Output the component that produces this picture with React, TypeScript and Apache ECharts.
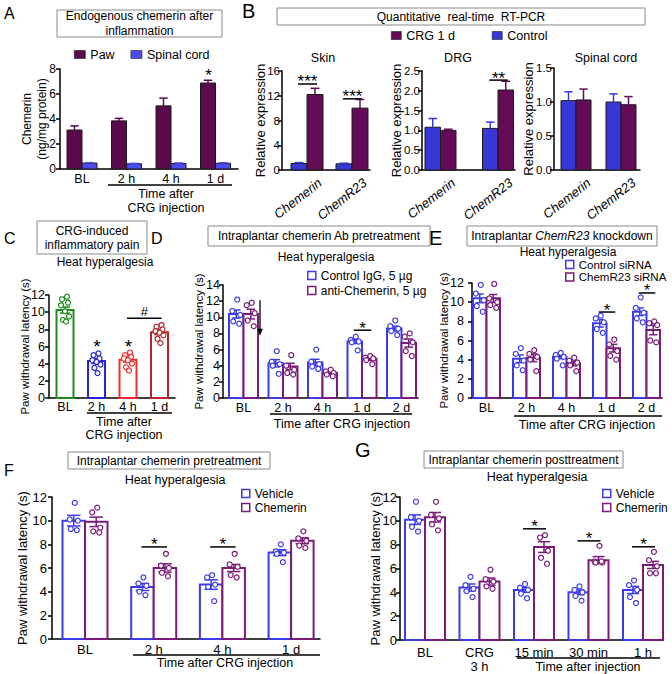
import React, { useEffect, useRef } from "react";
import * as echarts from "echarts";

const FONT = "'Liberation Sans', Arial, Helvetica, sans-serif";

/* ======================= DATA ======================= */
// A – endogenous chemerin (ng/mg protein)
const A_CATEGORIES = ["BL", "2 h", "4 h", "1 d"];
const A_PAW = [3.12, 3.85, 5.05, 6.88];
const A_PAW_SEM = [0.33, 0.2, 0.62, 0.22];
const A_SPINAL = [0.47, 0.42, 0.44, 0.46];
const A_SPINAL_SEM = [0.04, 0.03, 0.04, 0.04];

// B – relative expression
const B_GENES = ["Chemerin", "ChemR23"];
const B_SKIN_CONTROL = [1.05, 1.0];
const B_SKIN_CONTROL_SEM = [0.15, 0.1];
const B_SKIN_CRG = [12.2, 10.0];
const B_SKIN_CRG_SEM = [1.0, 1.4];
const B_DRG_CONTROL = [1.08, 1.05];
const B_DRG_CONTROL_SEM = [0.22, 0.16];
const B_DRG_CRG = [1.0, 2.02];
const B_DRG_CRG_SEM = [0.03, 0.22];
const B_SC_CONTROL = [1.02, 1.0];
const B_SC_CONTROL_SEM = [0.13, 0.12];
const B_SC_CRG = [1.03, 0.96];
const B_SC_CRG_SEM = [0.16, 0.12];

// C – CRG-induced heat hyperalgesia
const C_CATEGORIES = ["BL", "2 h", "4 h", "1 d"];
const C_MEAN = [10.25, 4.3, 4.45, 7.65];
const C_SEM = [0.35, 0.28, 0.27, 0.27];
const C_BL_POINTS = [11.8, 11.5, 11.1, 10.8, 10.1, 9.5, 9.1, 8.9];
const C_2H_POINTS = [5.2, 5.0, 4.6, 4.4, 4.2, 3.9, 3.5, 2.9];
const C_4H_POINTS = [5.3, 5.0, 4.8, 4.6, 4.4, 4.0, 3.6, 3.2];
const C_1D_POINTS = [8.5, 8.3, 8.0, 7.8, 7.6, 7.3, 6.9, 6.4];

// D – chemerin Ab pretreatment
const D_CATEGORIES = ["BL", "2 h", "4 h", "1 d", "2 d"];
const D_IGG = [10.4, 4.3, 4.4, 7.0, 8.6];
const D_IGG_SEM = [0.5, 0.45, 0.4, 0.25, 0.3];
const D_ANTI = [10.4, 3.9, 3.1, 4.85, 6.8];
const D_ANTI_SEM = [0.6, 0.4, 0.2, 0.2, 0.5];
const D_IGG_POINTS = [
  [12.2, 10.8, 10.3, 9.5, 9.2],
  [5.8, 4.5, 4.2, 4.0, 3.0],
  [6.0, 4.5, 4.2, 3.9, 3.6],
  [7.6, 7.2, 7.0, 6.9, 5.9],
  [9.6, 8.9, 8.6, 8.3, 7.8],
];
const D_ANTI_POINTS = [
  [11.8, 11.5, 10.5, 9.6, 8.9],
  [5.3, 4.0, 3.5, 3.1, 2.9],
  [3.5, 3.3, 3.1, 2.9, 2.7],
  [5.2, 5.0, 4.9, 4.7, 4.2],
  [8.0, 7.6, 6.9, 5.8, 5.2],
];

// E – ChemR23 knockdown
const E_CATEGORIES = ["BL", "2 h", "4 h", "1 d", "2 d"];
const E_CONTROL = [10.4, 4.1, 4.3, 7.8, 9.0];
const E_CONTROL_SEM = [0.45, 0.4, 0.2, 0.4, 0.4];
const E_SIRNA = [10.4, 4.2, 3.6, 5.2, 7.1];
const E_SIRNA_SEM = [0.4, 0.4, 0.25, 0.4, 0.5];
const E_CONTROL_POINTS = [
  [11.8, 10.9, 10.2, 9.6, 9.0],
  [5.2, 4.6, 3.9, 3.4, 2.9],
  [4.7, 4.5, 4.3, 4.1, 3.4],
  [8.6, 8.3, 7.9, 7.2, 6.8],
  [10.5, 9.4, 8.9, 8.3, 7.9],
];
const E_SIRNA_POINTS = [
  [11.9, 10.4, 10.0, 9.7, 9.4],
  [5.0, 4.6, 4.3, 4.0, 2.8],
  [4.2, 3.9, 3.7, 3.4, 2.8],
  [6.1, 5.6, 4.9, 4.4, 4.0],
  [8.0, 7.8, 7.6, 6.0, 5.8],
];

// F – chemerin pretreatment
const F_CATEGORIES = ["BL", "2 h", "4 h", "1 d"];
const F_VEHICLE = [10.0, 4.4, 4.6, 7.3];
const F_VEHICLE_SEM = [0.45, 0.3, 0.4, 0.25];
const F_CHEMERIN = [9.9, 6.0, 6.0, 8.3];
const F_CHEMERIN_SEM = [0.4, 0.35, 0.3, 0.25];
const F_VEHICLE_POINTS = [
  [11.5, 10.1, 10.0, 9.3, 9.2],
  [5.2, 4.7, 4.5, 4.0, 3.7],
  [5.4, 5.2, 4.6, 4.4, 3.2],
  [8.0, 7.4, 7.3, 7.2, 6.5],
];
const F_CHEMERIN_POINTS = [
  [11.1, 10.7, 9.4, 9.1, 9.0],
  [7.2, 6.2, 6.0, 5.6, 5.3],
  [7.2, 6.3, 6.1, 5.4, 5.2],
  [9.1, 8.5, 8.3, 7.9, 7.7],
];

// G – chemerin posttreatment
const G_CATEGORIES = ["BL", "CRG\n3 h", "15 min", "30 min", "1 h"];
const G_VEHICLE = [10.1, 4.4, 4.2, 4.0, 4.2];
const G_VEHICLE_SEM = [0.4, 0.3, 0.2, 0.2, 0.3];
const G_CHEMERIN = [10.3, 4.9, 7.8, 6.7, 6.3];
const G_CHEMERIN_SEM = [0.4, 0.3, 0.45, 0.3, 0.3];
const G_VEHICLE_POINTS = [
  [11.6, 10.3, 10.0, 9.5, 9.1],
  [5.3, 4.6, 4.3, 4.1, 3.6],
  [4.7, 4.4, 4.2, 3.9, 3.5],
  [4.5, 4.2, 4.0, 3.7, 3.3],
  [5.0, 4.6, 4.2, 3.6, 3.1],
];
const G_CHEMERIN_POINTS = [
  [11.6, 10.5, 10.2, 9.7, 9.2],
  [5.9, 5.1, 4.9, 4.5, 4.3],
  [8.8, 8.6, 7.5, 6.9, 6.4],
  [7.9, 6.6, 6.5, 6.5, 6.6],
  [7.4, 6.7, 6.2, 5.6, 5.6],
];

/* ======================= STYLE / LAYOUT ======================= */
const PAW = "#5a0a4a";
const SPINAL = "#4b4bf0";
const CRG_B = "#640c57";
const CTRL_B = "#3838d8";
const BLUE = "#3c3ce6";
const PURPLE = "#7b1a78";
const C_COLORS = ["#1c8c1c", "#2424d2", "#f02c2c", "#b42828"];

const LAYOUT: any = {
  A: { left: 60, top: 69, width: 178, height: 100, step: 44.5, first: 22, bar: 15 },
  SKIN: { left: 282, top: 71, width: 88, height: 99, step: 45, first: 25, bar: 16 },
  DRG: { left: 422, top: 71, width: 93, height: 99, step: 57.5, first: 18.5, bar: 15.5 },
  SPINAL: { left: 554, top: 68, width: 86, height: 102, step: 45, first: 22, bar: 15 },
  C: { left: 49, top: 295, width: 126, height: 103, step: 31.5, first: 16, bar: 17 },
  D: { left: 223, top: 285, width: 195, height: 113, step: 39.5, first: 20.5, bar: 14.5 },
  E: { left: 472, top: 283, width: 190, height: 115, step: 40, first: 14.5, bar: 13.5 },
  F: { left: 52, top: 497, width: 268, height: 142, step: 68.7, first: 33, bar: 22.5 },
  G: { left: 400, top: 497, width: 262, height: 143, step: 54.5, first: 25, bar: 20 },
};

const JIT5 = [1, -4, 4, -3, 3];
const JIT8 = [2, -3, 3, -4, 0, 4, -2, 1];

function buildOption() {
  const grid: any[] = [];
  const xAxis: any[] = [];
  const yAxis: any[] = [];
  const series: any[] = [];

  function panel(lay: any, cats: string[], c: any) {
    const idx = grid.length;
    const shift = (c.labelShift ?? 0) / lay.step;
    grid.push({ left: lay.left, top: lay.top, width: lay.width, height: lay.height });
    xAxis.push({
      type: "value",
      gridIndex: idx,
      min: -lay.first / lay.step,
      max: (lay.width - lay.first) / lay.step,
      axisLine: { show: true, onZero: false, lineStyle: { color: "#000", width: 1.5 } },
      axisTick: { show: false },
      splitLine: { show: false },
      axisLabel: {
        customValues: cats.map((_, i) => i + shift),
        formatter: (v: number) => cats[Math.round(v - shift)] ?? "",
        fontSize: c.xSize,
        fontFamily: FONT,
        color: "#000",
        margin: c.xMargin ?? 4,
        rotate: c.rotate ?? 0,
        fontStyle: c.italic ? "italic" : "normal",
        lineHeight: c.xLH ?? 14,
        hideOverlap: false,
      },
    });
    const yl: any = { fontSize: c.ySize, fontFamily: FONT, color: "#000", margin: c.yMargin ?? 6 };
    if (c.dec) yl.formatter = (v: number) => v.toFixed(c.dec);
    yAxis.push({
      type: "value",
      gridIndex: idx,
      min: 0,
      max: c.max,
      interval: c.interval,
      name: c.name,
      nameLocation: "middle",
      nameGap: c.nameGap,
      nameRotate: 90,
      nameMoveOverlap: false,
      nameTextStyle: { fontSize: c.nameSize, fontFamily: FONT, color: "#000", lineHeight: c.nameLH ?? 13 },
      axisLine: { show: true, onZero: false, lineStyle: { color: "#000", width: 1.5 } },
      axisTick: { show: true, inside: false, length: 4, lineStyle: { color: "#000", width: 1.5 } },
      splitLine: { show: false },
      axisLabel: yl,
    });
    return idx;
  }

  function bars(ax: number, lay: any, n: number, g: number, name: string, means: number[], sems: number[], st: any) {
    const bw = lay.bar / lay.step;
    const off = (g - (n - 1) / 2) * bw;
    return {
      type: "custom",
      name,
      xAxisIndex: ax,
      yAxisIndex: ax,
      z: 2,
      silent: true,
      data: means.map((m, i) => [i, m, sems[i]]),
      renderItem: (params: any, api: any) => {
        const i = api.value(0);
        const m = api.value(1);
        const e = api.value(2);
        const xc = i + off;
        const tl = api.coord([xc - bw / 2, m]);
        const br = api.coord([xc + bw / 2, 0]);
        const top = api.coord([xc, m + e]);
        const low = api.coord([xc, Math.max(0, m - e)]);
        const cx = (tl[0] + br[0]) / 2;
        const half = (br[0] - tl[0]) * st.cap;
        const color = st.color(i);
        const children: any[] = [
          {
            type: "rect",
            shape: { x: tl[0], y: tl[1], width: br[0] - tl[0], height: br[1] - tl[1] },
            style: st.hollow
              ? { fill: "#fff", stroke: color, lineWidth: st.lw }
              : { fill: color, stroke: st.edge, lineWidth: st.lw },
          },
          {
            type: "line",
            shape: { x1: cx, y1: st.hollow ? low[1] : tl[1], x2: cx, y2: top[1] },
            style: { stroke: color, lineWidth: st.elw },
          },
          {
            type: "line",
            shape: { x1: cx - half, y1: top[1], x2: cx + half, y2: top[1] },
            style: { stroke: color, lineWidth: st.elw },
          },
        ];
        if (st.hollow) {
          children.push({
            type: "line",
            shape: { x1: cx - half, y1: low[1], x2: cx + half, y2: low[1] },
            style: { stroke: color, lineWidth: st.elw },
          });
        }
        return { type: "group", children };
      },
    };
  }

  function dots(ax: number, lay: any, n: number, g: number, name: string, pts: number[][], colorFor: (i: number) => string, jit: number[]) {
    const bw = lay.bar / lay.step;
    const off = (g - (n - 1) / 2) * bw;
    const data: any[] = [];
    pts.forEach((arr, i) =>
      arr.forEach((v, k) =>
        data.push({ value: [i + off + jit[k % jit.length] / lay.step, v], itemStyle: { borderColor: colorFor(i) } })
      )
    );
    return {
      type: "scatter",
      name,
      xAxisIndex: ax,
      yAxisIndex: ax,
      z: 4,
      silent: true,
      symbol: "circle",
      symbolSize: 5,
      itemStyle: { color: "#fff", borderWidth: 1.2, opacity: 1 },
      data,
    };
  }

  function sig(ax: number, lay: any, n: number, items: any[]) {
    const bw = lay.bar / lay.step;
    const gx = (p: number[]) => p[0] + (p[1] - (n - 1) / 2) * bw;
    return {
      type: "custom",
      xAxisIndex: ax,
      yAxisIndex: ax,
      z: 5,
      silent: true,
      data: items.map((it) => [gx(it.from), gx(it.to ?? it.from), it.y]),
      renderItem: (params: any, api: any) => {
        const it = items[params.dataIndex];
        const p1 = api.coord([api.value(0), api.value(2)]);
        const p2 = api.coord([api.value(1), api.value(2)]);
        const children: any[] = [];
        if (it.to) {
          children.push({
            type: "line",
            shape: { x1: p1[0] - 1, y1: p1[1], x2: p2[0] + 2, y2: p1[1] },
            style: { stroke: "#000", lineWidth: 1.5 },
          });
        }
        children.push({
          type: "text",
          x: (p1[0] + p2[0]) / 2 + 0.5,
          y: p1[1] - (it.dy ?? 2),
          style: {
            text: it.text,
            fontSize: it.size ?? 17,
            lineHeight: 12,
            fontFamily: FONT,
            fill: "#000",
            align: "center",
            verticalAlign: "middle",
          },
        });
        return { type: "group", children };
      },
    };
  }

  /* ---------- A ---------- */
  const a = panel(LAYOUT.A, A_CATEGORIES, {
    max: 8, interval: 2, name: "Chemerin\n(ng/mg protein)", nameGap: 11, nameSize: 12, nameLH: 14.5,
    ySize: 12, yMargin: 4, xSize: 12.5, xMargin: 3,
  });
  const filled = (color: string) => ({ color: () => color, edge: "#1a1a1a", lw: 1, elw: 1.5, cap: 0.28, hollow: false });
  series.push(bars(a, LAYOUT.A, 2, 0, "Paw", A_PAW, A_PAW_SEM, filled(PAW)));
  series.push(bars(a, LAYOUT.A, 2, 1, "Spinal cord", A_SPINAL, A_SPINAL_SEM, filled(SPINAL)));
  series.push(sig(a, LAYOUT.A, 2, [{ from: [3, 0], y: 7.3, text: "*" }]));

  /* ---------- B ---------- */
  const bConf = {
    xSize: 13, rotate: 38, italic: true, xMargin: 11, labelShift: 13, ySize: 11.5, yMargin: 2, nameSize: 13,
    name: "Relative expression",
  };
  const sk = panel(LAYOUT.SKIN, B_GENES, { ...bConf, max: 16, interval: 4, nameGap: 15 });
  series.push(bars(sk, LAYOUT.SKIN, 2, 0, "Control", B_SKIN_CONTROL, B_SKIN_CONTROL_SEM, filled(CTRL_B)));
  series.push(bars(sk, LAYOUT.SKIN, 2, 1, "CRG 1 d", B_SKIN_CRG, B_SKIN_CRG_SEM, filled(CRG_B)));
  series.push(
    sig(sk, LAYOUT.SKIN, 2, [
      { from: [0, 0], to: [0, 1], y: 13.9, text: "***" },
      { from: [1, 0], to: [1, 1], y: 11.5, text: "***" },
    ])
  );
  const dr = panel(LAYOUT.DRG, B_GENES, { ...bConf, max: 2.5, interval: 0.5, dec: 1, nameGap: 19 });
  series.push(bars(dr, LAYOUT.DRG, 2, 0, "Control", B_DRG_CONTROL, B_DRG_CONTROL_SEM, filled(CTRL_B)));
  series.push(bars(dr, LAYOUT.DRG, 2, 1, "CRG 1 d", B_DRG_CRG, B_DRG_CRG_SEM, filled(CRG_B)));
  series.push(sig(dr, LAYOUT.DRG, 2, [{ from: [1, 0], to: [1, 1], y: 2.27, text: "**" }]));
  const sc = panel(LAYOUT.SPINAL, B_GENES, { ...bConf, max: 1.5, interval: 0.5, dec: 1, nameGap: 19 });
  series.push(bars(sc, LAYOUT.SPINAL, 2, 0, "Control", B_SC_CONTROL, B_SC_CONTROL_SEM, filled(CTRL_B)));
  series.push(bars(sc, LAYOUT.SPINAL, 2, 1, "CRG 1 d", B_SC_CRG, B_SC_CRG_SEM, filled(CRG_B)));

  /* ---------- C ---------- */
  const pawName = "Paw withdrawal latency (s)";
  const c = panel(LAYOUT.C, C_CATEGORIES, {
    max: 12, interval: 2, name: pawName, nameGap: 17.5, nameSize: 11.5, ySize: 12.5, yMargin: 4, xSize: 12.5, xMargin: 2,
  });
  const hollow = (colorFor: (i: number) => string) => ({ color: colorFor, lw: 2, elw: 1.5, cap: 0.3, hollow: true });
  series.push(bars(c, LAYOUT.C, 1, 0, "CRG", C_MEAN, C_SEM, hollow((i) => C_COLORS[i])));
  series.push(
    dots(c, LAYOUT.C, 1, 0, "CRG points", [C_BL_POINTS, C_2H_POINTS, C_4H_POINTS, C_1D_POINTS], (i) => C_COLORS[i], JIT8)
  );
  series.push(
    sig(c, LAYOUT.C, 1, [
      { from: [1, 0], y: 5.8, text: "*", size: 19 },
      { from: [2, 0], y: 5.8, text: "*", size: 19 },
      { from: [2, 0], to: [3, 0], y: 9.3, text: "#", size: 13, dy: 7 },
    ])
  );

  /* ---------- D ---------- */
  const d = panel(LAYOUT.D, D_CATEGORIES, {
    max: 14, interval: 2, name: pawName, nameGap: 17.5, nameSize: 11.5, ySize: 12.5, yMargin: 3, xSize: 12.5, xMargin: 3,
  });
  series.push(bars(d, LAYOUT.D, 2, 0, "Control IgG, 5 µg", D_IGG, D_IGG_SEM, hollow(() => BLUE)));
  series.push(bars(d, LAYOUT.D, 2, 1, "anti-Chemerin, 5 µg", D_ANTI, D_ANTI_SEM, hollow(() => PURPLE)));
  series.push(dots(d, LAYOUT.D, 2, 0, "Control IgG, 5 µg", D_IGG_POINTS, () => BLUE, JIT5));
  series.push(dots(d, LAYOUT.D, 2, 1, "anti-Chemerin, 5 µg", D_ANTI_POINTS, () => PURPLE, JIT5));
  series.push(sig(d, LAYOUT.D, 2, [{ from: [3, 0], to: [3, 1], y: 8.4, text: "*" }]));
  // arrow (injection time) right of BL pair
  {
    const lay = LAYOUT.D;
    const bw = lay.bar / lay.step;
    series.push({
      type: "custom",
      xAxisIndex: d,
      yAxisIndex: d,
      z: 5,
      silent: true,
      data: [[bw + 2 / lay.step, 12.1, 7.7]],
      renderItem: (params: any, api: any) => {
        const p1 = api.coord([api.value(0), api.value(1)]);
        const p2 = api.coord([api.value(0), api.value(2)]);
        return {
          type: "group",
          children: [
            { type: "line", shape: { x1: p1[0], y1: p1[1], x2: p2[0], y2: p2[1] - 5 }, style: { stroke: "#000", lineWidth: 1.3 } },
            {
              type: "polygon",
              shape: { points: [[p2[0] - 2.8, p2[1] - 7], [p2[0] + 2.8, p2[1] - 7], [p2[0], p2[1]]] },
              style: { fill: "#000" },
            },
          ],
        };
      },
    });
  }

  /* ---------- E ---------- */
  const e = panel(LAYOUT.E, E_CATEGORIES, {
    max: 12, interval: 2, name: pawName, nameGap: 21.5, nameSize: 11.5, ySize: 12.5, yMargin: 8, xSize: 12.5, xMargin: 3,
  });
  series.push(bars(e, LAYOUT.E, 2, 0, "Control siRNA", E_CONTROL, E_CONTROL_SEM, hollow(() => BLUE)));
  series.push(bars(e, LAYOUT.E, 2, 1, "ChemR23 siRNA", E_SIRNA, E_SIRNA_SEM, hollow(() => PURPLE)));
  series.push(dots(e, LAYOUT.E, 2, 0, "Control siRNA", E_CONTROL_POINTS, () => BLUE, JIT5));
  series.push(dots(e, LAYOUT.E, 2, 1, "ChemR23 siRNA", E_SIRNA_POINTS, () => PURPLE, JIT5));
  series.push(
    sig(e, LAYOUT.E, 2, [
      { from: [3, 0], to: [3, 1], y: 8.97, text: "*" },
      { from: [4, 0], to: [4, 1], y: 10.96, text: "*", size: 16 },
    ])
  );

  /* ---------- F ---------- */
  const f = panel(LAYOUT.F, F_CATEGORIES, {
    max: 12, interval: 2, name: pawName, nameGap: 23, nameSize: 13, nameLH: 14, ySize: 13, yMargin: 5, xSize: 13, xMargin: 3,
  });
  series.push(bars(f, LAYOUT.F, 2, 0, "Vehicle", F_VEHICLE, F_VEHICLE_SEM, hollow(() => BLUE)));
  series.push(bars(f, LAYOUT.F, 2, 1, "Chemerin", F_CHEMERIN, F_CHEMERIN_SEM, hollow(() => PURPLE)));
  series.push(dots(f, LAYOUT.F, 2, 0, "Vehicle", F_VEHICLE_POINTS, () => BLUE, JIT5));
  series.push(dots(f, LAYOUT.F, 2, 1, "Chemerin", F_CHEMERIN_POINTS, () => PURPLE, JIT5));
  series.push(
    sig(f, LAYOUT.F, 2, [
      { from: [1, 0], to: [1, 1], y: 7.78, text: "*" },
      { from: [2, 0], to: [2, 1], y: 7.78, text: "*" },
    ])
  );

  /* ---------- G ---------- */
  const gg = panel(LAYOUT.G, G_CATEGORIES, {
    max: 12, interval: 2, name: pawName, nameGap: 18, nameSize: 13, nameLH: 14, ySize: 13, yMargin: 3, xSize: 13, xLH: 14, xMargin: 5,
  });
  series.push(bars(gg, LAYOUT.G, 2, 0, "Vehicle", G_VEHICLE, G_VEHICLE_SEM, hollow(() => BLUE)));
  series.push(bars(gg, LAYOUT.G, 2, 1, "Chemerin", G_CHEMERIN, G_CHEMERIN_SEM, hollow(() => PURPLE)));
  series.push(dots(gg, LAYOUT.G, 2, 0, "Vehicle", G_VEHICLE_POINTS, () => BLUE, JIT5));
  series.push(dots(gg, LAYOUT.G, 2, 1, "Chemerin", G_CHEMERIN_POINTS, () => PURPLE, JIT5));
  series.push(
    sig(gg, LAYOUT.G, 2, [
      { from: [2, 0], to: [2, 1], y: 9.33, text: "*" },
      { from: [3, 0], to: [3, 1], y: 8.32, text: "*" },
      { from: [4, 0], to: [4, 1], y: 7.82, text: "*" },
    ])
  );

  /* ---------- legends ---------- */
  const lt = { fontSize: 12, fontFamily: FONT, color: "#000" };
  const hollowIcon = (name: string, color: string) => ({
    name,
    icon: "rect",
    itemStyle: { color: "#fff", borderColor: color, borderWidth: 1.5 },
  });
  const filledIcon = (name: string, color: string) => ({
    name,
    icon: "rect",
    itemStyle: { color, borderColor: "#1a1a1a", borderWidth: 0.6 },
  });
  const legend = [
    {
      left: 74, top: 48, orient: "horizontal", padding: 0, itemWidth: 11, itemHeight: 8, itemGap: 16,
      selectedMode: false, textStyle: { ...lt, fontSize: 12.5 }, data: [filledIcon("Paw", PAW), filledIcon("Spinal cord", SPINAL)],
    },
    {
      left: 391, top: 29, orient: "horizontal", padding: 0, itemWidth: 10, itemHeight: 8, itemGap: 37,
      selectedMode: false, textStyle: { ...lt, fontSize: 12.5 }, data: [filledIcon("CRG 1 d", CRG_B), filledIcon("Control", CTRL_B)],
    },
    {
      left: 307, top: 269, orient: "vertical", padding: 0, itemWidth: 8, itemHeight: 8, itemGap: 2,
      selectedMode: false, textStyle: { ...lt, lineHeight: 13 },
      data: [hollowIcon("Control IgG, 5 µg", BLUE), hollowIcon("anti-Chemerin, 5 µg", PURPLE)],
    },
    {
      left: 565, top: 258.5, orient: "vertical", padding: 0, itemWidth: 8, itemHeight: 8, itemGap: 0.5,
      selectedMode: false, textStyle: { ...lt, fontSize: 11.5, lineHeight: 11.5 },
      data: [hollowIcon("Control siRNA", BLUE), hollowIcon("ChemR23 siRNA", PURPLE)],
    },
    {
      left: 241, top: 487, orient: "vertical", padding: 0, itemWidth: 8, itemHeight: 8, itemGap: 1,
      selectedMode: false, textStyle: { ...lt, lineHeight: 13 },
      data: [hollowIcon("Vehicle", BLUE), hollowIcon("Chemerin", PURPLE)],
    },
    {
      left: 602, top: 487, orient: "vertical", padding: 0, itemWidth: 8, itemHeight: 8, itemGap: 1,
      selectedMode: false, textStyle: { ...lt, lineHeight: 13 },
      data: [hollowIcon("Vehicle", BLUE), hollowIcon("Chemerin", PURPLE)],
    },
  ];

  /* ---------- graphics (titles, boxes, annotations) ---------- */
  const T = (x: number, y: number, text: string, size = 12.5, extra: any = {}) => ({
    type: "text",
    x,
    y,
    z: 10,
    style: { text, fontSize: size, fontFamily: FONT, fill: "#000", align: "center", verticalAlign: "middle", ...extra },
  });
  const BOX = (x: number, y: number, w: number, h: number) => ({
    type: "rect",
    z: 9,
    shape: { x, y, width: w, height: h },
    style: { fill: "#fff", stroke: "#8a8a8a", lineWidth: 1 },
  });
  const HL = (x1: number, x2: number, y: number) => ({
    type: "line",
    z: 10,
    shape: { x1, y1: y, x2, y2: y },
    style: { stroke: "#000", lineWidth: 1.5 },
  });
  const LET = (x: number, y: number, t: string, size: number) => T(x, y, t, size, { align: "left" });

  const graphic = [
    LET(4, 13, "A", 16),
    LET(242, 11, "B", 20),
    LET(4, 238, "C", 16),
    LET(151, 238, "D", 16),
    LET(429, 237.5, "E", 20),
    LET(4, 470, "F", 16),
    LET(355, 450, "G", 20),

    BOX(57, 10, 165, 27),
    T(139.5, 23.5, "Endogenous chemerin after\ninflammation", 12, { lineHeight: 15 }),
    BOX(277, 8, 368, 17),
    T(461, 16.5, "Quantitative  real-time  RT-PCR", 12),
    BOX(37, 221, 110, 33),
    T(92, 237.5, "CRG-induced\ninflammatory pain", 12, { lineHeight: 14 }),
    BOX(208, 226, 222, 20),
    T(319, 236, "Intraplantar chemerin Ab pretreatment", 12),
    BOX(467, 226, 190, 20),
    T(562, 236, "Intraplantar {i|ChemR23} knockdown", 12, {
      rich: { i: { fontStyle: "italic", fontSize: 12, fontFamily: FONT, fill: "#000" } },
    }),
    BOX(68, 452, 202, 17),
    T(169, 460.5, "Intraplantar chemerin pretreatment", 12),
    BOX(424, 451, 199, 17),
    T(523.5, 459.5, "Intraplantar chemerin posttreatment", 12),

    T(323, 58, "Skin"),
    T(458, 58, "DRG"),
    T(606, 58, "Spinal cord"),

    T(105, 262, "Heat hyperalgesia", 12),
    T(326, 257, "Heat hyperalgesia", 12),
    T(568, 252, "Heat hyperalgesia", 12, { lineHeight: 12 }),
    T(175, 480, "Heat hyperalgesia", 12.5),
    T(537, 477, "Heat hyperalgesia", 12.5),

    HL(108, 232, 185),
    T(166, 194, "Time after", 12.5),
    T(166, 208, "CRG injection", 12.5),
    HL(87, 172, 413),
    T(124, 421.5, "Time after", 12.5),
    T(124, 435, "CRG injection", 12.5),
    HL(270, 412, 414),
    T(342, 424, "Time after CRG injection", 12.5),
    HL(514, 662, 416),
    T(587, 425, "Time after CRG injection", 12.5),
    HL(133, 320, 655),
    T(225, 663, "Time after CRG injection", 12.5),
    HL(517, 660, 658),
    T(588, 667, "Time after injection", 12.5),
  ];

  return {
    animation: false,
    backgroundColor: "#fff",
    textStyle: { fontFamily: FONT },
    grid,
    xAxis,
    yAxis,
    series,
    legend,
    graphic: { elements: graphic },
  };
}

export default function App() {
  const ref = useRef<HTMLDivElement>(null);
  useEffect(() => {
    if (!ref.current) return;
    const chart = echarts.init(ref.current, null, { renderer: "svg", width: 672, height: 674 });
    chart.setOption(buildOption() as any);
    return () => chart.dispose();
  }, []);
  return (
    <div
      ref={ref}
      style={{ position: "absolute", left: 0, top: 0, width: 672, height: 674, background: "#fff" }}
    />
  );
}
